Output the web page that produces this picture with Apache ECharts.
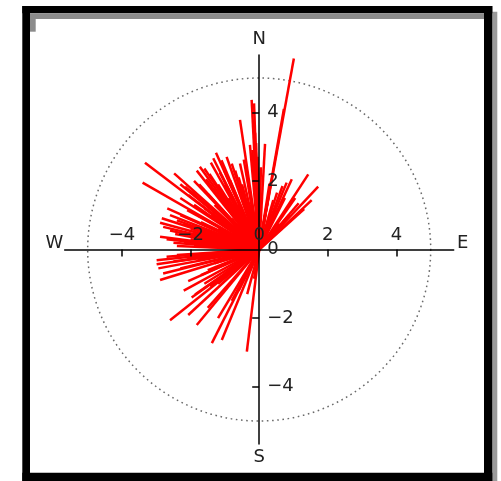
<!DOCTYPE html>
<html>
<head>
<meta charset="utf-8">
<script src="https://cdn.jsdelivr.net/npm/echarts@6/dist/echarts.min.js"></script>
<style>
  html, body { margin: 0; padding: 0; background: #fff; }
  #chart { width: 501px; height: 481px; }
</style>
</head>
<body>
<div id="chart"></div>
<script>
// Wind vectors: eastward (u) and northward (v) components, drawn from the origin.
const eastward = [
  1.01, 0.72, 1.43, 1.72, 0.95, 0.80, 0.68, 0.52, 1.53, 1.31, 0.17, 0.41, 0.27, 0.88, 0.30, 1.05, 0.60,
  0.20, 0.35, 0.75, 1.15,
  -0.22, -0.15, -0.56, -0.27, -0.09, -0.45, -0.56, -0.38, -0.14, -0.30, -0.05,
  -0.05, -0.20, 0.05, -0.12,
  -3.33, -3.40, -2.48, -2.16, -2.07, -1.82, -1.73, -1.60, -1.41, -1.26, -1.34, -1.02, -0.85, -1.20, -1.50, -0.70, -1.90, -0.95,
  -1.10, -0.90, -1.30, -0.60, -0.40, -1.60, -1.40, -1.70, -1.20, -1.90, -1.70, -1.50, -2.20, -1.90, -2.30, -2.10,
  -0.25, -0.15, -0.80, -1.00, -0.60, -0.70, -1.15, -1.55, -1.90, -2.30,
  -2.30, -2.00, -1.75, -1.45, -1.10, -0.95, -0.80, -0.50, -2.60, -2.40, -2.00, -1.40, -2.70, -2.50,
  -2.68, -2.84, -2.89, -2.80, -2.89, -2.40, -2.45, -2.20, -1.80, -2.00, -1.60, -2.60, -1.30, -1.00, -0.70,
  -2.99, -2.99, -2.94, -2.70, -2.89, -2.40, -2.07, -1.97, -1.87, -2.60, -2.07, -1.82, -1.38, -1.09, -0.36,
  -1.50, -1.20, -0.80, -0.50, -2.30, -0.15, -1.00, -0.70, -1.43,
  -1.80, -1.30, -2.10, -1.70, -1.00, -0.60, -0.35, -1.60, -2.50, -0.90, -1.20,
  -2.80, -2.20, -1.50, -1.20
];
const northward = [
  5.57, 4.10, 2.19, 1.83, 2.05, 1.95, 1.85, 1.66, 1.44, 1.18, 3.08, 1.44, 1.54, 1.02, 1.92, 1.50, 0.75,
  1.20, 2.00, 1.50, 1.35,
  4.36, 4.26, 3.78, 3.05, 3.10, 2.62, 2.51, 2.33, 2.20, 1.80, 1.60,
  2.70, 2.90, 2.40, 3.40,
  2.53, 1.95, 2.22, 1.83, 1.59, 2.30, 2.41, 2.36, 2.53, 2.82, 2.66, 2.30, 2.02, 1.90, 1.62, 1.62, 1.30, 1.25,
  1.60, 1.50, 1.30, 1.30, 1.40, 1.20, 1.00, 0.80, 0.60, 0.50, 0.25, 0.15, 0.20, 0.10, 1.00, 1.15,
  1.30, 0.90, 0.90, 1.90, 2.10, 2.30, 2.25, 2.05, 2.00, 1.50,
  1.90, 1.70, 1.90, 2.20, 2.60, 2.70, 2.50, 1.90, 1.00, 0.85, 0.60, 0.40, 0.30, 0.20,
  1.20, 0.91, 0.78, 0.66, 0.37, 0.10, 0.45, 0.75, 1.00, 0.30, 0.55, 0.55, 0.90, 0.35, 0.60,
  -0.31, -0.43, -0.55, -0.21, -0.89, -0.16, -0.92, -1.40, -1.31, -2.06, -1.91, -2.20, -2.73, -2.64, -2.98,
  -0.60, -1.00, -1.50, -0.90, -0.55, -0.85, -0.30, -0.45, -1.08,
  -0.30, -0.40, -0.25, -0.75, -0.70, -1.20, -1.30, -1.00, -0.35, -0.20, -0.15,
  -0.70, -1.20, -1.70, -2.00
];

// Axis ticks and labels
const tickValues = [-4, -2, 2, 4];
const labelValues = [-4, -2, 0, 2, 4];
const ringRadius = 5;
const axisRange = 5.67;
const compass = [
  { text: 'N', at: [0, 6.12] },
  { text: 'S', at: [0, -6.06] },
  { text: 'W', at: [-5.97, 0.19] },
  { text: 'E', at: [5.93, 0.19] }
];

const FONT = 'DejaVu Sans';
const TEXT_COLOR = '#222';
const fmt = (val) => (val < 0 ? '\u2212' + Math.abs(val) : String(val));

// Square plot area; both axes are shifted inward so they cross at the origin.
const GRID = { left: 64.7, top: 55, size: 389 };
const toCenter = -GRID.size / 2;

const chart = echarts.init(document.getElementById('chart'), null, { renderer: 'canvas' });

function axis(extra) {
  return Object.assign({
    type: 'value',
    min: -axisRange,
    max: axisRange,
    z: 5,
    offset: toCenter,
    axisLine: { show: true, onZero: false, lineStyle: { color: '#000', width: 1.5 } },
    axisTick: { show: true, customValues: tickValues, length: 7, inside: false, lineStyle: { color: '#000', width: 1.5 } },
    splitLine: { show: false }
  }, extra);
}

chart.setOption({
  animation: false,
  backgroundColor: '#fff',
  grid: { left: GRID.left, top: GRID.top, width: GRID.size, height: GRID.size },
  xAxis: axis({
    position: 'bottom',
    axisLabel: {
      show: true, customValues: labelValues, inside: true, margin: 5,
      fontFamily: FONT, fontSize: 18, color: TEXT_COLOR, formatter: fmt
    }
  }),
  yAxis: axis({
    position: 'left',
    axisLabel: {
      show: true, customValues: labelValues, inside: true, margin: 8, align: 'left',
      fontFamily: FONT, fontSize: 18, color: TEXT_COLOR, formatter: fmt
    }
  }),
  series: [
    {
      type: 'custom',
      silent: true,
      z: 1,
      data: [[0, 0, ringRadius]],
      renderItem: function (params, api) {
        const c = api.coord([api.value(0), api.value(1)]);
        const r = api.size([api.value(2), 0])[0];
        return {
          type: 'circle',
          shape: { cx: c[0], cy: c[1], r: r },
          style: { fill: null, stroke: '#6a6a6a', lineWidth: 1.5, lineDash: [1.6, 3.6] }
        };
      }
    },
    {
      type: 'lines',
      coordinateSystem: 'cartesian2d',
      silent: true,
      z: 2,
      lineStyle: { color: '#ff0000', width: 2.5, opacity: 1, curveness: 0 },
      data: eastward.map((u, i) => ({ coords: [[0, 0], [u, northward[i]]] }))
    }
  ]
});

// Frame around the plot
const frame = [
  { type: 'rect', shape: { x: 492.3, y: 11.7, width: 5, height: 470 }, style: { fill: '#9a9a9a' } },
  { type: 'rect', shape: { x: 22.3, y: 6, width: 470, height: 7.3 }, style: { fill: '#000' } },
  { type: 'rect', shape: { x: 22.3, y: 6, width: 7.7, height: 475 }, style: { fill: '#000' } },
  { type: 'rect', shape: { x: 484, y: 6, width: 8.3, height: 475 }, style: { fill: '#000' } },
  { type: 'rect', shape: { x: 22.3, y: 472.7, width: 470, height: 8.3 }, style: { fill: '#000' } },
  { type: 'rect', shape: { x: 30, y: 13.3, width: 454, height: 5.7 }, style: { fill: '#8c8c8c' } },
  { type: 'rect', shape: { x: 30, y: 19, width: 5.7, height: 12.7 }, style: { fill: '#8c8c8c' } }
];

const compassText = compass.map((c) => {
  const p = chart.convertToPixel({ gridIndex: 0 }, c.at);
  return {
    type: 'text', x: p[0], y: p[1], z: 10,
    style: { text: c.text, align: 'center', verticalAlign: 'middle', font: '18px "' + FONT + '"', fill: TEXT_COLOR }
  };
});

chart.setOption({ graphic: frame.concat(compassText) });
</script>
</body>
</html>
